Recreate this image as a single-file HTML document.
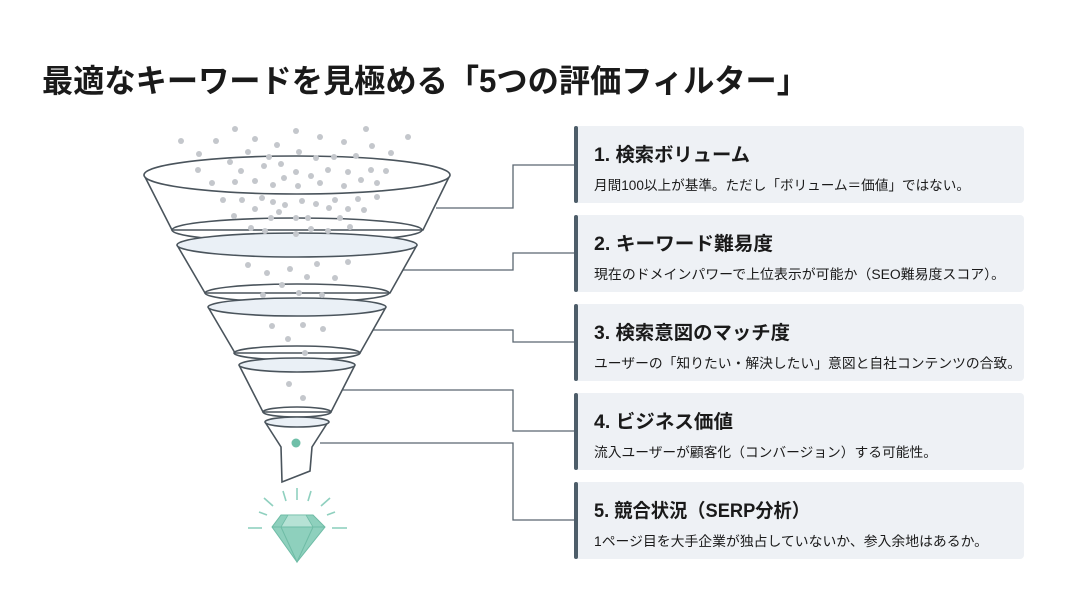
<!DOCTYPE html>
<html><head><meta charset="utf-8"><style>
html,body{margin:0;padding:0;background:#fff;}
svg{display:block;}
text{font-family:"Liberation Sans","Noto Sans CJK JP",sans-serif;fill:#1a1a1a;}
</style></head><body>
<svg width="1067" height="600" viewBox="0 0 1067 600" xmlns="http://www.w3.org/2000/svg">
<rect width="1067" height="600" fill="#fff"/>
<text x="42" y="92" font-size="32" font-weight="bold" textLength="766" lengthAdjust="spacingAndGlyphs">最適なキーワードを見極める「5つの評価フィルター」</text>

<!-- cards -->
<g>
<rect x="574" y="126" width="450" height="77" rx="4" fill="#eef1f5"/><rect x="574" y="126" width="4" height="77" rx="2" fill="#4d5d69"/>
<rect x="574" y="215" width="450" height="77" rx="4" fill="#eef1f5"/><rect x="574" y="215" width="4" height="77" rx="2" fill="#4d5d69"/>
<rect x="574" y="304" width="450" height="77" rx="4" fill="#eef1f5"/><rect x="574" y="304" width="4" height="77" rx="2" fill="#4d5d69"/>
<rect x="574" y="393" width="450" height="77" rx="4" fill="#eef1f5"/><rect x="574" y="393" width="4" height="77" rx="2" fill="#4d5d69"/>
<rect x="574" y="482" width="450" height="77" rx="4" fill="#eef1f5"/><rect x="574" y="482" width="4" height="77" rx="2" fill="#4d5d69"/>
</g>
<g font-weight="bold" font-size="19">
<text x="594" y="161" textLength="156" lengthAdjust="spacingAndGlyphs">1. 検索ボリューム</text>
<text x="594" y="250" textLength="179" lengthAdjust="spacingAndGlyphs">2. キーワード難易度</text>
<text x="594" y="339" textLength="196" lengthAdjust="spacingAndGlyphs">3. 検索意図のマッチ度</text>
<text x="594" y="428" textLength="139" lengthAdjust="spacingAndGlyphs">4. ビジネス価値</text>
<text x="594" y="517" textLength="216" lengthAdjust="spacingAndGlyphs">5. 競合状況（SERP分析）</text>
</g>
<g font-size="13.5">
<text x="594" y="190" textLength="376" lengthAdjust="spacingAndGlyphs">月間100以上が基準。ただし「ボリューム＝価値」ではない。</text>
<text x="594" y="279" textLength="411" lengthAdjust="spacingAndGlyphs">現在のドメインパワーで上位表示が可能か（SEO難易度スコア）。</text>
<text x="594" y="368" textLength="427" lengthAdjust="spacingAndGlyphs">ユーザーの「知りたい・解決したい」意図と自社コンテンツの合致。</text>
<text x="594" y="457" textLength="343" lengthAdjust="spacingAndGlyphs">流入ユーザーが顧客化（コンバージョン）する可能性。</text>
<text x="594" y="546" textLength="394" lengthAdjust="spacingAndGlyphs">1ページ目を大手企業が独占していないか、参入余地はあるか。</text>
</g>

<!-- connectors -->
<g fill="none" stroke="#5a6670" stroke-width="1.3">
<polyline points="436,208 513,208 513,165 574,165"/>
<polyline points="403,270 513,270 513,253 574,253"/>
<polyline points="373,330 513,330 513,342 574,342"/>
<polyline points="343,390 513,390 513,431 574,431"/>
<polyline points="320,443 513,443 513,520 574,520"/>
</g>

<!-- funnel -->
<g stroke="#4a545c" stroke-width="1.6" fill="none">
<path d="M144,175 L172,230 L423,230 L450,175" fill="#fff"/>
<ellipse cx="297" cy="175" rx="153" ry="19" fill="#fff"/>
<ellipse cx="297" cy="230" rx="125" ry="12"/>
<path d="M177,245 L205,293 L390,293 L417,245" fill="#fff"/>
<ellipse cx="297" cy="245" rx="120" ry="12" fill="#eaf0f6"/>
<ellipse cx="297" cy="293" rx="92" ry="9"/>
<path d="M208,307 L235,353 L360,353 L386,307" fill="#fff"/>
<ellipse cx="297" cy="307" rx="89" ry="9" fill="#eaf0f6"/>
<ellipse cx="297" cy="353" rx="63" ry="7"/>
<path d="M239,365 L263,412 L331,412 L355,365" fill="#fff"/>
<ellipse cx="297" cy="365" rx="58" ry="7" fill="#eaf0f6"/>
<ellipse cx="297" cy="412" rx="34" ry="5"/>
<path d="M265,422 L281,447 L282,482 L310,471 L312,447 L328,422" fill="#fff"/>
<ellipse cx="297" cy="422" rx="32" ry="5" fill="#eaf0f6"/>
</g>
<circle cx="296" cy="443" r="4.5" fill="#6fbfa8"/>

<!-- dots -->
<g fill="#c4c7cc">
<circle cx="235" cy="129" r="3"/><circle cx="296" cy="131" r="3"/><circle cx="366" cy="129" r="3"/><circle cx="181" cy="141" r="3"/><circle cx="216" cy="141" r="3"/><circle cx="255" cy="139" r="3"/><circle cx="277" cy="145" r="3"/><circle cx="320" cy="137" r="3"/><circle cx="344" cy="142" r="3"/><circle cx="372" cy="146" r="3"/><circle cx="408" cy="137" r="3"/>
<circle cx="199" cy="154" r="3"/><circle cx="230" cy="162" r="3"/><circle cx="248" cy="152" r="3"/><circle cx="269" cy="157" r="3"/><circle cx="299" cy="152" r="3"/><circle cx="316" cy="158" r="3"/><circle cx="334" cy="157" r="3"/><circle cx="356" cy="156" r="3"/><circle cx="391" cy="153" r="3"/>
<circle cx="198" cy="170" r="3"/><circle cx="241" cy="171" r="3"/><circle cx="264" cy="166" r="3"/><circle cx="281" cy="164" r="3"/><circle cx="296" cy="172" r="3"/><circle cx="311" cy="176" r="3"/><circle cx="328" cy="170" r="3"/><circle cx="348" cy="172" r="3"/><circle cx="371" cy="170" r="3"/><circle cx="386" cy="171" r="3"/>
<circle cx="212" cy="183" r="3"/><circle cx="235" cy="182" r="3"/><circle cx="255" cy="181" r="3"/><circle cx="273" cy="185" r="3"/><circle cx="284" cy="178" r="3"/><circle cx="298" cy="186" r="3"/><circle cx="320" cy="183" r="3"/><circle cx="344" cy="186" r="3"/><circle cx="361" cy="180" r="3"/><circle cx="377" cy="183" r="3"/>
<circle cx="223" cy="200" r="3"/><circle cx="242" cy="200" r="3"/><circle cx="262" cy="198" r="3"/><circle cx="273" cy="202" r="3"/><circle cx="285" cy="205" r="3"/><circle cx="302" cy="201" r="3"/><circle cx="316" cy="204" r="3"/><circle cx="335" cy="200" r="3"/><circle cx="358" cy="199" r="3"/><circle cx="377" cy="197" r="3"/>
<circle cx="255" cy="209" r="3"/><circle cx="279" cy="212" r="3"/><circle cx="296" cy="218" r="3"/><circle cx="329" cy="208" r="3"/><circle cx="348" cy="209" r="3"/><circle cx="364" cy="210" r="3"/><circle cx="234" cy="216" r="3"/><circle cx="271" cy="218" r="3"/><circle cx="308" cy="218" r="3"/><circle cx="340" cy="218" r="3"/>
<circle cx="251" cy="228" r="3"/><circle cx="265" cy="231" r="3"/><circle cx="296" cy="234" r="3"/><circle cx="311" cy="229" r="3"/><circle cx="328" cy="231" r="3"/><circle cx="350" cy="227" r="3"/>
<circle cx="248" cy="265" r="3"/><circle cx="267" cy="273" r="3"/><circle cx="290" cy="269" r="3"/><circle cx="317" cy="264" r="3"/><circle cx="348" cy="262" r="3"/><circle cx="307" cy="277" r="3"/><circle cx="335" cy="278" r="3"/><circle cx="282" cy="285" r="3"/><circle cx="263" cy="295" r="3"/><circle cx="299" cy="293" r="3"/><circle cx="322" cy="295" r="3"/>
<circle cx="272" cy="326" r="3"/><circle cx="303" cy="325" r="3"/><circle cx="323" cy="329" r="3"/><circle cx="288" cy="339" r="3"/><circle cx="305" cy="353" r="3"/>
<circle cx="289" cy="384" r="3"/><circle cx="303" cy="398" r="3"/>
</g>

<!-- diamond -->
<g stroke="#8fd0bf" stroke-width="1.6" fill="none">
<line x1="297" y1="488" x2="297" y2="500"/><line x1="283" y1="491" x2="286" y2="501"/><line x1="311" y1="491" x2="308" y2="501"/>
<line x1="264" y1="498" x2="273" y2="506"/><line x1="330" y1="498" x2="321" y2="506"/>
<line x1="259" y1="512" x2="267" y2="515"/><line x1="335" y1="512" x2="327" y2="515"/>
<line x1="248" y1="528" x2="262" y2="528"/><line x1="332" y1="528" x2="347" y2="528"/>
</g>
<polygon points="281,515 313,515 325,527 297,562 272,527" fill="#8ed0bd" stroke="#6fbca6" stroke-width="1"/>
<polygon points="288,515 306,515 313,527 281,527" fill="#b6e2d5" stroke="#6fbca6" stroke-width="0.8"/>
<polyline points="272,527 325,527" stroke="#6fbca6" fill="none"/>
<polyline points="281,527 297,562 313,527" stroke="#6fbca6" fill="none"/>
</svg>
</body></html>
